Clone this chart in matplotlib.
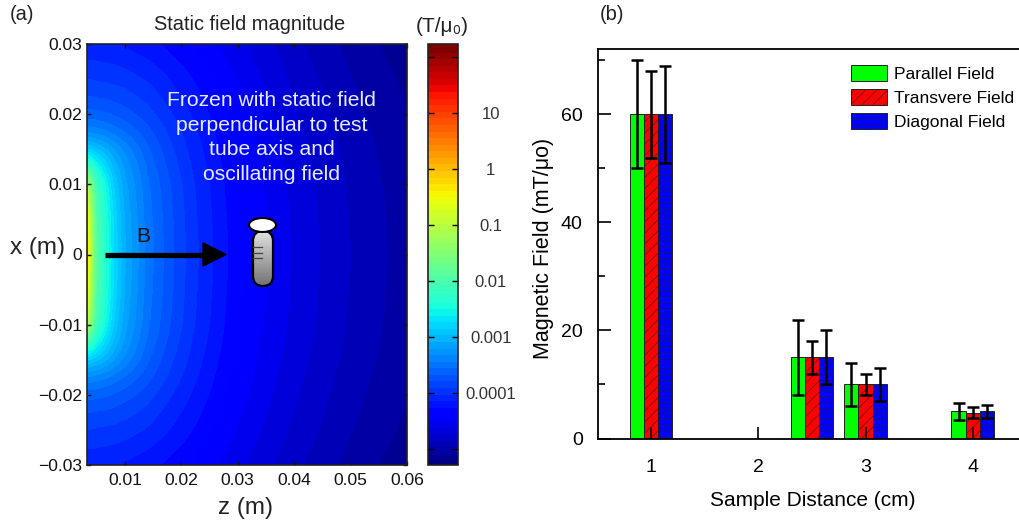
import numpy as np
import matplotlib
matplotlib.use('Agg')
import matplotlib.pyplot as plt
from matplotlib.cm import ScalarMappable
from matplotlib.colors import Normalize
from matplotlib.patches import Ellipse, FancyBboxPatch, Polygon

plt.rcParams['font.family'] = ['Liberation Sans', 'DejaVu Sans']
plt.rcParams['hatch.linewidth'] = 0.4

# panel (a): log10 of field magnitude
z_pos = [0.0033, 0.004, 0.005, 0.0065, 0.008, 0.01, 0.014, 0.018, 0.022, 0.026, 0.03, 0.035, 0.04, 0.05, 0.06]
x_pos = [0, 0.005, 0.01, 0.0125, 0.015, 0.0175, 0.0205, 0.0235, 0.0258, 0.0277, 0.03]
log_b = [
    [-0.2, -1.1, -1.9, -2.3, -2.7, -3.05, -3.45, -3.72, -3.95, -4.13, -4.31, -4.46, -4.6, -4.82, -5.0],
    [-0.3, -1.2, -1.95, -2.33, -2.72, -3.07, -3.47, -3.73, -3.96, -4.14, -4.32, -4.47, -4.61, -4.83, -5.0],
    [-1.0, -1.5, -2.1, -2.45, -2.82, -3.13, -3.5, -3.76, -3.98, -4.16, -4.34, -4.48, -4.62, -4.84, -5.01],
    [-2.1, -2.2, -2.45, -2.72, -2.96, -3.2, -3.55, -3.8, -4.01, -4.18, -4.35, -4.5, -4.63, -4.85, -5.02],
    [-2.85, -2.87, -2.92, -3.02, -3.16, -3.32, -3.62, -3.85, -4.04, -4.21, -4.37, -4.51, -4.65, -4.86, -5.03],
    [-3.35, -3.35, -3.38, -3.42, -3.47, -3.55, -3.72, -3.91, -4.08, -4.24, -4.39, -4.53, -4.67, -4.88, -5.04],
    [-3.65, -3.65, -3.66, -3.67, -3.7, -3.74, -3.85, -4.0, -4.14, -4.28, -4.42, -4.56, -4.69, -4.9, -5.06],
    [-3.82, -3.82, -3.83, -3.84, -3.85, -3.88, -3.96, -4.08, -4.2, -4.33, -4.46, -4.59, -4.72, -4.92, -5.08],
    [-3.92, -3.92, -3.93, -3.94, -3.95, -3.97, -4.04, -4.14, -4.25, -4.37, -4.49, -4.61, -4.74, -4.94, -5.09],
    [-4.0, -4.0, -4.0, -4.01, -4.02, -4.05, -4.11, -4.2, -4.3, -4.41, -4.52, -4.64, -4.76, -4.96, -5.11],
    [-4.1, -4.1, -4.1, -4.11, -4.12, -4.14, -4.2, -4.28, -4.36, -4.46, -4.56, -4.67, -4.79, -4.98, -5.13],
]
cbar_ticks = [-5, -4, -3, -2, -1, 0, 1, 2]
cbar_labels = ['', '0.0001', '0.001', '0.01', '0.1', '1', '10', '']
z_ticks = [0.01, 0.02, 0.03, 0.04, 0.05, 0.06]
z_labels = ['0.01', '0.02', '0.03', '0.04', '0.05', '0.06']
x_ticks = [-0.03, -0.02, -0.01, 0, 0.01, 0.02, 0.03]
x_labels = ['\u22120.03', '\u22120.02', '\u22120.01', '0', '0.01', '0.02', '0.03']

# panel (b)
group_pos = [1, 2.5, 3, 4]
parallel = [60, 15, 10, 5]
transverse = [60, 15, 10, 4.8]
diagonal = [60, 15, 10, 5]
parallel_err = [10, 7, 4, 1.5]
transverse_err = [8, 3, 2, 1]
diagonal_err = [9, 5, 3, 1.2]
tick_pos = [1, 2, 3, 4]

W, H = 1019, 523
fig = plt.figure(figsize=(W / 100, H / 100), dpi=100)


def px_axes(left, top, right, bottom, **kw):
    return fig.add_axes([left / W, 1 - bottom / H, (right - left) / W, (bottom - top) / H], **kw)


def smooth(arr, n, axis):
    # soften the kinks of the coarse table
    kernel = np.hanning(2 * n + 3)[1:-1]
    kernel = kernel / kernel.sum()
    pad = [(0, 0), (0, 0)]
    pad[axis] = (n, n)
    padded = np.pad(arr, pad, mode='edge')
    return np.apply_along_axis(lambda v: np.convolve(v, kernel, mode='valid'), axis, padded)


vmin, vmax = -5.29, 2.23
norm = Normalize(vmin, vmax)
cmap = plt.get_cmap('jet', 64)

ax = px_axes(87, 44, 407, 465)
z = np.array(z_pos)
x = np.array(x_pos)
vals = np.array(log_b)
x_full = np.concatenate([-x[::-1], x[1:]])
vals_full = np.vstack([vals[::-1], vals[1:]])

z_fine = np.geomspace(z[0], z[-1], 240)
x_fine = np.linspace(-0.03, 0.03, 241)
grid = np.array([np.interp(z_fine, z, row) for row in vals_full])
grid = np.array([np.interp(x_fine, x_full, col) for col in grid.T]).T
grid = smooth(smooth(grid, 10, 0), 6, 1)

ax.contourf(z_fine, x_fine, grid, levels=np.linspace(vmin, vmax, 65), cmap=cmap, norm=norm)
ax.set_xlim(0.0033, 0.06)
ax.set_ylim(-0.03, 0.03)
ax.set_xticks(z_ticks, z_labels)
ax.set_yticks(x_ticks, x_labels)
ax.tick_params(direction='in', top=True, right=True, length=3, width=1, labelsize=12.6, pad=3.5, colors='#111111')
ax.tick_params(axis='x', pad=6)
for s in ax.spines.values():
    s.set_linewidth(1.2)
    s.set_color('#222222')

cax = px_axes(428, 44, 458, 465)
cb = fig.colorbar(ScalarMappable(norm=norm, cmap=cmap), cax=cax)
cb.set_ticks(cbar_ticks, labels=cbar_labels)
cax.tick_params(direction='in', left=True, right=True, length=4, width=1, labelsize=12, pad=23.5, labelcolor='#333333')
for lab in cax.get_yticklabels():
    lab.set_ha('center')
cb.outline.set_linewidth(1.2)
cb.outline.set_edgecolor('#222222')
cb.solids.set_edgecolor('face')

# panel (b)
bx = px_axes(598, 49, 1019, 438.5)
bar_w = 0.133
off = [-bar_w, 0, bar_w]
pos = np.array(group_pos)
series = [
    (parallel, parallel_err, '#00ff00', None, 'Parallel Field'),
    (transverse, transverse_err, '#ff0000', '///', 'Transvere Field'),
    (diagonal, diagonal_err, '#0000ff', '---', 'Diagonal Field'),
]
for (vals_b, errs, col, hatch, name), d in zip(series, off):
    bx.bar(pos + d, vals_b, bar_w, color=col, edgecolor='#222222', linewidth=0.7, hatch=hatch, label=name, zorder=2)
    bx.errorbar(pos + d, vals_b, yerr=errs, fmt='none', ecolor='black', elinewidth=1.8, capsize=4.3, capthick=1.8, zorder=3)
bx.set_axisbelow(False)
bx.set_xlim(0.506, 4.43)
bx.set_ylim(0, 72.1)
bx.set_xticks(tick_pos)
bx.set_yticks([0, 20, 40, 60])
bx.set_yticks([10, 30, 50, 70], minor=True)
bx.spines['right'].set_visible(False)
for s in bx.spines.values():
    s.set_linewidth(1.3)
bx.tick_params(axis='both', which='major', direction='in', length=9, width=1.2, labelsize=14)
bx.tick_params(axis='x', pad=15)
bx.tick_params(axis='y', pad=11)
bx.tick_params(axis='y', which='minor', direction='in', length=5, width=1.2)
bx.set_xlabel('Sample Distance (cm)', fontsize=15)
bx.xaxis.set_label_coords((813 - 598) / 421, -(491 - 438.5) / 389.5)
bx.set_ylabel('Magnetic Field (mT/\u03bco)', fontsize=15.5)
bx.yaxis.set_label_coords(-(598 - 554) / 421, (438.5 - 248) / 389.5)
bx.legend(loc='upper left', bbox_to_anchor=(0.6, 0.96), frameon=False, fontsize=12.5, handlelength=2.1, handleheight=1.05,
          handletextpad=0.4, labelspacing=0.41, borderpad=0, borderaxespad=0)

# overlay in pixel coordinates for the annotations
ov = fig.add_axes([0, 0, 1, 1], zorder=10)
ov.patch.set_alpha(0)
ov.axis('off')

ov.plot([105, 206], [254.5, 254.5], color='black', lw=3.8, solid_capstyle='butt')
ov.add_patch(Polygon([[203, 243], [226, 254.5], [203, 266]], closed=True, color='black'))

tube = FancyBboxPatch((253, 231), 20, 55, boxstyle='round,pad=0,rounding_size=10', fc='none', ec='black', lw=1.6, zorder=3)
ov.add_patch(tube)
grad = np.linspace(0.88, 0.45, 50).reshape(-1, 1)
im = ov.imshow(grad, extent=(253, 273, 286, 231), cmap='gray', vmin=0, vmax=1, aspect='auto', zorder=2)
im.set_clip_path(tube)
for ty in (247, 253, 258):
    ov.plot([253.5, 262], [ty, ty], color='#444444', lw=0.9, zorder=3)
ov.add_patch(Ellipse((262.5, 225), 27, 14, fc='white', ec='black', lw=1.5, zorder=4))
ov.set_xlim(0, W)
ov.set_ylim(H, 0)

ov.text(271.5, 137.5, 'Frozen with static field\nperpendicular to test\ntube axis and\noscillating field', color='#e8ecff',
        fontsize=15.2, ha='center', va='center', linespacing=1.36)
ov.text(143, 236, 'B', fontsize=15, ha='center', va='center', color='#111111')
ov.text(250, 24, 'Static field magnitude', fontsize=14.4, ha='center', va='center', color='#222222')
ov.text(442, 26, '(T/\u03bc\u2080)', fontsize=15, ha='center', va='center', color='#222222')
ov.text(22, 15, '(a)', fontsize=14.5, ha='center', va='center', color='#222222')
ov.text(612, 15, '(b)', fontsize=14.5, ha='center', va='center', color='#222222')
ov.text(38, 248, 'x (m)', fontsize=17.5, ha='center', va='center', color='#222222')
ov.text(246, 508, 'z (m)', fontsize=17.5, ha='center', va='center', color='#222222')

fig.savefig('out.png', dpi=100)
